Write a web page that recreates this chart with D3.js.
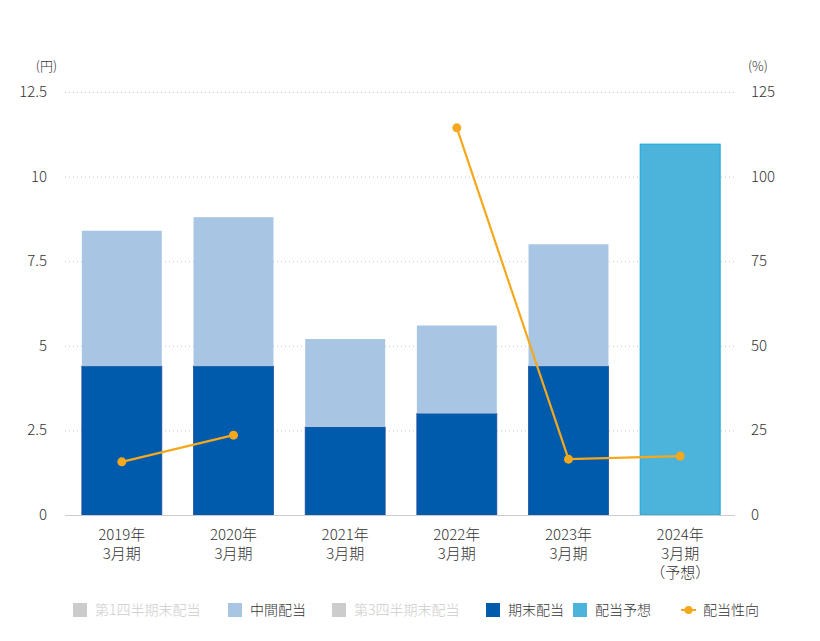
<!DOCTYPE html>
<html>
<head>
<meta charset="utf-8">
<script src="https://cdn.jsdelivr.net/npm/d3@7"></script>
<style>
body { margin: 0; background: #fff; }
svg { font-family: "Noto Sans CJK JP", "Noto Sans", sans-serif; font-weight: 300; }
</style>
</head>
<body>
<svg id="chart" width="820" height="641"></svg>
<script>
var categories = ["2019年|3月期", "2020年|3月期", "2021年|3月期", "2022年|3月期", "2023年|3月期", "2024年|3月期|（予想）"]
var interim = [4.0, 4.4, 2.6, 2.6, 3.6, 0]
var yearEnd = [4.4, 4.4, 2.6, 3.0, 4.4, 0]
var forecast = [0, 0, 0, 0, 0, 10.96]
var payoutRatio = [15.7, 23.6, null, 114.4, 16.5, 17.4]
var leftTicks = [0, 2.5, 5, 7.5, 10, 12.5]
var rightTicks = [0, 25, 50, 75, 100, 125]
var legendItems = [
    {label: "第1四半期末配当", color: "#cccccc", text: "#cccccc", type: "rect"},
    {label: "中間配当", color: "#a8c6e3", text: "#333", type: "rect"},
    {label: "第3四半期末配当", color: "#cccccc", text: "#cccccc", type: "rect"},
    {label: "期末配当", color: "#005bac", text: "#333", type: "rect"},
    {label: "配当予想", color: "#4cb4da", text: "#333", type: "rect"},
    {label: "配当性向", color: "#f5a81c", text: "#333", type: "line"}
]

var svg = d3.select("#chart")
var plotLeft = 66, plotRight = 736, plotTop = 92, plotBottom = 515

var x = d3.scaleBand().domain(categories).range([plotLeft, plotRight]).paddingInner(0.284).paddingOuter(0.142)
var y = d3.scaleLinear().domain([0, 12.5]).range([plotBottom, plotTop])
var y2 = d3.scaleLinear().domain([0, 125]).range([plotBottom, plotTop])

// grid lines
svg.append("g").selectAll("line").data(leftTicks.slice(1)).enter()
    .append("line")
    .attr("x1", plotLeft - 1).attr("x2", plotRight - 1)
    .attr("y1", function(d) { return y(d) + 0.5 })
    .attr("y2", function(d) { return y(d) + 0.5 })
    .attr("stroke", "#c8c8c8")
    .attr("stroke-dasharray", "1,3")

// left axis labels
svg.append("g").selectAll("text").data(leftTicks).enter()
    .append("text")
    .attr("x", 47).attr("y", function(d) { return y(d) + 5 })
    .attr("text-anchor", "end")
    .attr("font-size", 15).attr("fill", "#333")
    .text(function(d) { return d })
svg.append("text").attr("x", 57).attr("y", 71).attr("text-anchor", "end")
    .attr("font-size", 13).attr("fill", "#333").text("(円)")

// right axis labels
svg.append("g").selectAll("text").data(rightTicks).enter()
    .append("text")
    .attr("x", 751).attr("y", function(d) { return y2(d) + 5 })
    .attr("font-size", 15).attr("fill", "#333")
    .text(function(d) { return d })
svg.append("text").attr("x", 748).attr("y", 71)
    .attr("font-size", 13).attr("fill", "#333").text("(%)")

// bars
var bars = svg.append("g")
categories.forEach(function(c, i) {
    if (yearEnd[i] > 0) {
        bars.append("rect")
            .attr("x", x(c)).attr("width", x.bandwidth())
            .attr("y", y(yearEnd[i])).attr("height", y(0) - y(yearEnd[i]))
            .attr("fill", "#005bac").attr("stroke", "#1f4f9f").attr("stroke-width", 0.8)
    }
    if (interim[i] > 0) {
        bars.append("rect")
            .attr("x", x(c)).attr("width", x.bandwidth())
            .attr("y", y(yearEnd[i] + interim[i])).attr("height", y(yearEnd[i]) - y(yearEnd[i] + interim[i]))
            .attr("fill", "#a8c6e3")
    }
    if (forecast[i] > 0) {
        bars.append("rect")
            .attr("x", x(c)).attr("width", x.bandwidth())
            .attr("y", y(forecast[i])).attr("height", y(0) - y(forecast[i]))
            .attr("fill", "#4cb4da").attr("stroke", "#17a6dc").attr("stroke-width", 1)
    }
})

// baseline
svg.append("line").attr("x1", plotLeft - 1).attr("x2", plotRight - 1)
    .attr("y1", plotBottom + 0.5).attr("y2", plotBottom + 0.5)
    .attr("stroke", "#cccccc")

// category labels
var catG = svg.append("g")
categories.forEach(function(c) {
    var lines = c.split("|")
    var t = catG.append("text")
        .attr("x", x(c) + x.bandwidth() / 2).attr("y", 540)
        .attr("text-anchor", "middle").attr("font-size", 15).attr("fill", "#333")
    lines.forEach(function(l, j) {
        t.append("tspan").attr("x", x(c) + x.bandwidth() / 2).attr("dy", j == 0 ? 0 : 19).text(l)
    })
})

// payout ratio line
var pts = categories.map(function(c, i) { return [c, payoutRatio[i]] })
var line = d3.line()
    .defined(function(d) { return d[1] != null })
    .x(function(d) { return x(d[0]) + x.bandwidth() / 2 })
    .y(function(d) { return y2(d[1]) })
svg.append("path").datum(pts)
    .attr("d", line)
    .attr("fill", "none").attr("stroke", "#f5a81c").attr("stroke-width", 2.2)
svg.append("g").selectAll("circle").data(pts.filter(function(d) { return d[1] != null })).enter()
    .append("circle")
    .attr("cx", function(d) { return x(d[0]) + x.bandwidth() / 2 })
    .attr("cy", function(d) { return y2(d[1]) })
    .attr("r", 4.5).attr("fill", "#f5a81c")

// legend
var legendX = [73, 228, 332, 486, 573, 681]
var lg = svg.append("g")
legendItems.forEach(function(d, i) {
    var g = lg.append("g").attr("transform", "translate(" + legendX[i] + ",610)")
    if (d.type == "rect") {
        g.append("rect").attr("x", 0).attr("y", -7).attr("width", 14).attr("height", 14).attr("fill", d.color)
    } else {
        g.append("line").attr("x1", 0).attr("x2", 15).attr("y1", 0).attr("y2", 0)
            .attr("stroke", d.color).attr("stroke-width", 2)
        g.append("circle").attr("cx", 7.5).attr("cy", 0).attr("r", 4).attr("fill", d.color)
    }
    g.append("text").attr("x", 22).attr("y", 5).attr("font-size", 14).attr("fill", d.text).text(d.label)
})
</script>
</body>
</html>
